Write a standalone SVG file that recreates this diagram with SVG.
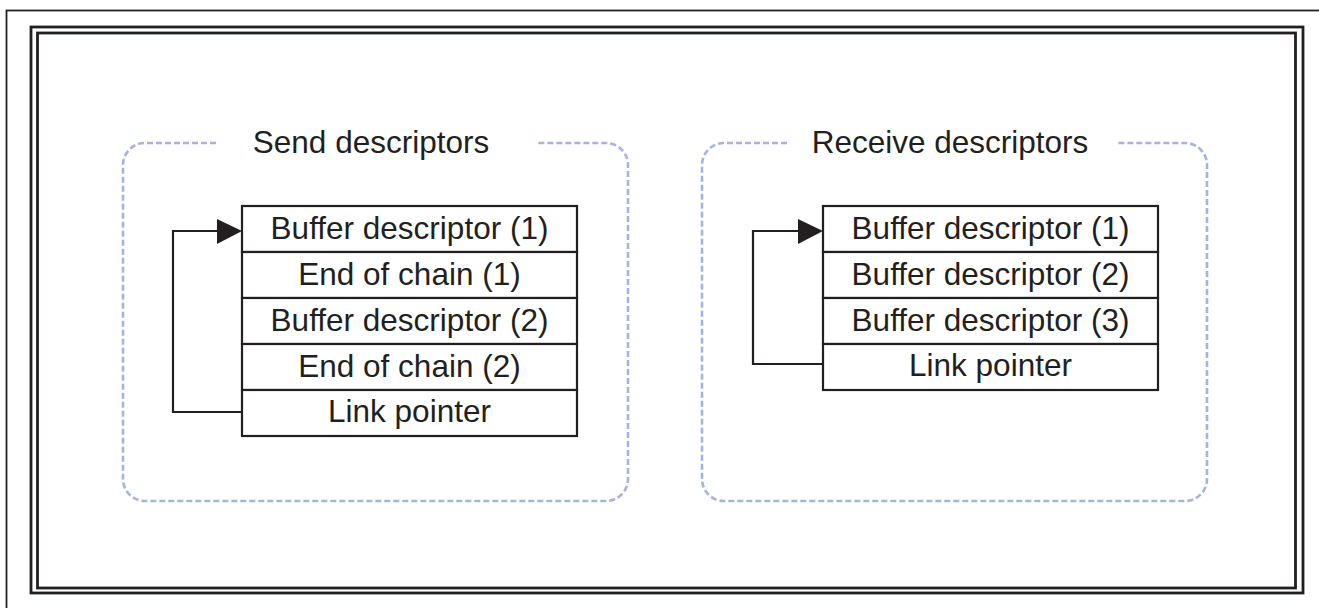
<svg xmlns="http://www.w3.org/2000/svg" width="1319" height="608" viewBox="0 0 1319 608">
  <style>
    .frame { fill: none; stroke: #231f20; }
    .group { fill: none; stroke: #a4b4de; stroke-width: 2.6; stroke-dasharray: 6 3; }
    .cell { fill: #ffffff; stroke: #231f20; stroke-width: 2.2; }
    .link { fill: none; stroke: #231f20; stroke-width: 2.2; }
    .head { fill: #231f20; }
    text { font-family: "Liberation Sans", Arial, sans-serif; font-size: 31.5px; fill: #231f20; text-anchor: middle; }
  </style>

  <rect width="1319" height="608" fill="#ffffff"/>

  <!-- page frame -->
  <rect class="frame" x="6.5" y="10.5" width="1330" height="620" stroke-width="1.8" stroke="#000000"/>
  <rect class="frame" x="31" y="27" width="1272" height="566" stroke-width="2.8"/>
  <rect class="frame" x="37.5" y="33" width="1258" height="555" stroke-width="2.8"/>

  <!-- send descriptors group -->
  <g id="send-group">
    <path class="group" d="M216 143 H145 A22 22 0 0 0 123 165 V479 A22 22 0 0 0 145 501 H606 A22 22 0 0 0 628 479 V165 A22 22 0 0 0 606 143 H536"/>
    <text x="371" y="153">Send descriptors</text>
  </g>

  <!-- receive descriptors group -->
  <g id="receive-group">
    <path class="group" d="M787 143 H724 A22 22 0 0 0 702 165 V479 A22 22 0 0 0 724 501 H1185 A22 22 0 0 0 1207 479 V165 A22 22 0 0 0 1185 143 H1118"/>
    <text x="950" y="153">Receive descriptors</text>
  </g>

  <!-- send descriptor chain -->
  <g id="send-table">
    <rect class="cell" x="242" y="206" width="335" height="46"/>
    <rect class="cell" x="242" y="252" width="335" height="46"/>
    <rect class="cell" x="242" y="298" width="335" height="46"/>
    <rect class="cell" x="242" y="344" width="335" height="46"/>
    <rect class="cell" x="242" y="390" width="335" height="46"/>
    <text x="409.5" y="239">Buffer descriptor (1)</text>
    <text x="409.5" y="285">End of chain (1)</text>
    <text x="409.5" y="331">Buffer descriptor (2)</text>
    <text x="409.5" y="377">End of chain (2)</text>
    <text x="409.5" y="422">Link pointer</text>
  </g>

  <!-- receive descriptor chain -->
  <g id="receive-table">
    <rect class="cell" x="823" y="206" width="335" height="46"/>
    <rect class="cell" x="823" y="252" width="335" height="46"/>
    <rect class="cell" x="823" y="298" width="335" height="46"/>
    <rect class="cell" x="823" y="344" width="335" height="46"/>
    <text x="990.5" y="239">Buffer descriptor (1)</text>
    <text x="990.5" y="285">Buffer descriptor (2)</text>
    <text x="990.5" y="331">Buffer descriptor (3)</text>
    <text x="990.5" y="376">Link pointer</text>
  </g>

  <!-- link pointer loops back to the first descriptor -->
  <g id="connectors">
    <path class="link" d="M242 412 H173 V231 H220"/>
    <polygon class="head" points="217,219 242,231 217,244"/>
    <path class="link" d="M823 364 H753 V231 H801"/>
    <polygon class="head" points="798,219 823,231 798,244"/>
  </g>
</svg>
